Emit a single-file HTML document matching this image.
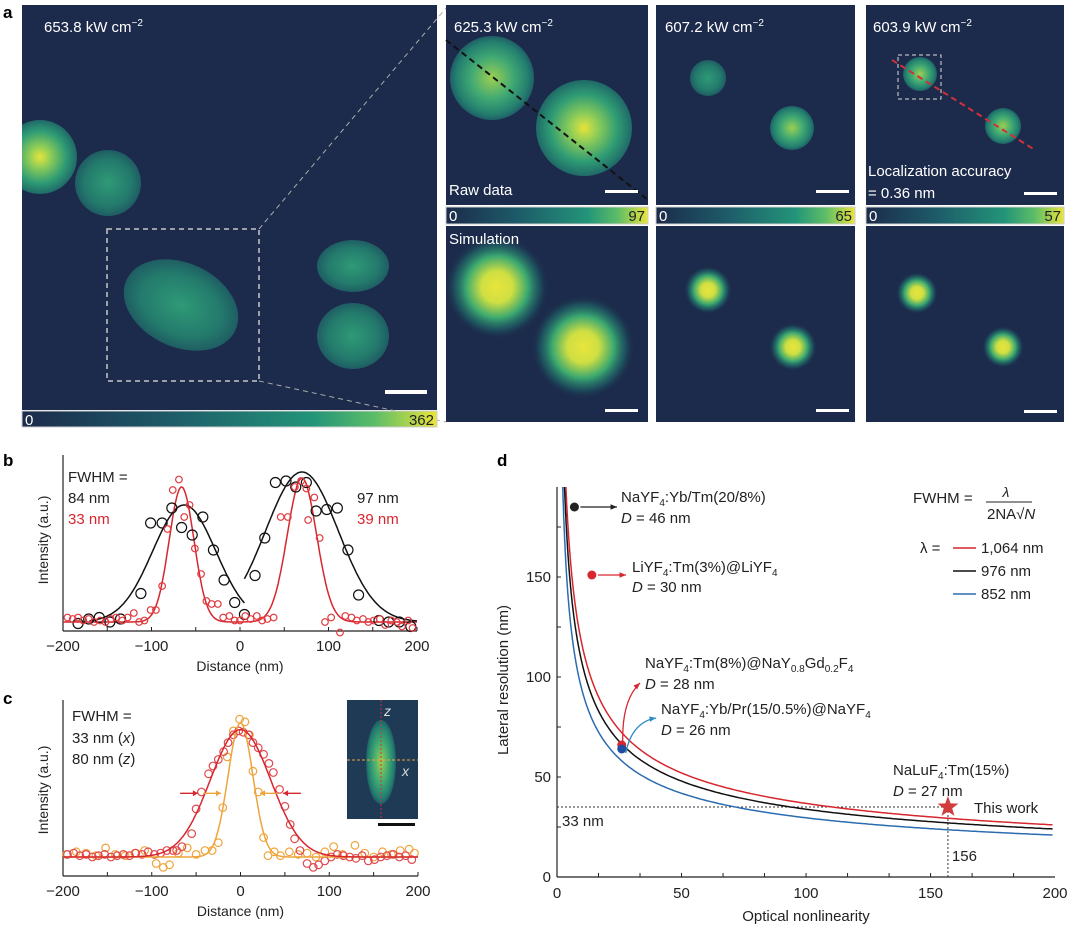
<!DOCTYPE html>
<html><head><meta charset="utf-8">
<style>
body{margin:0;background:#fff;}
svg{display:block;font-family:"Liberation Sans",Arial,sans-serif;}
</style></head>
<body>
<svg id="fig" width="1080" height="930" viewBox="0 0 1080 930">
<defs>
<linearGradient id="vir" x1="0" x2="1" y1="0" y2="0">
<stop offset="0" stop-color="#1c2b4b"/><stop offset="0.35" stop-color="#1d5a68"/><stop offset="0.7" stop-color="#239479"/><stop offset="0.85" stop-color="#5cbd68"/><stop offset="1" stop-color="#e9e53a"/>
</linearGradient>
<radialGradient id="sim"><stop offset="0" stop-color="#e8e53c"/><stop offset="0.3" stop-color="#cfdf42"/><stop offset="0.6" stop-color="#3aa870"/><stop offset="0.82" stop-color="#1f6a6a" stop-opacity="0.6"/><stop offset="1" stop-color="#1c2b4b" stop-opacity="0"/></radialGradient>
<radialGradient id="raw"><stop offset="0" stop-color="#9ccf52"/><stop offset="0.5" stop-color="#40a973"/><stop offset="0.85" stop-color="#24806f"/><stop offset="1" stop-color="#1f5f66"/></radialGradient>
<radialGradient id="rawdim"><stop offset="0" stop-color="#2f9a76"/><stop offset="0.7" stop-color="#237a6c"/><stop offset="1" stop-color="#1f5d63"/></radialGradient>
<radialGradient id="rawhot"><stop offset="0" stop-color="#e6e43c"/><stop offset="0.3" stop-color="#8ccc58"/><stop offset="0.7" stop-color="#2f9c74"/><stop offset="1" stop-color="#1f6a68"/></radialGradient>
<clipPath id="cMain"><rect x="22" y="5" width="415" height="405"/></clipPath>
<clipPath id="c1"><rect x="446" y="5" width="202" height="200"/></clipPath>
<clipPath id="c2"><rect x="656" y="5" width="199" height="200"/></clipPath>
<clipPath id="c3"><rect x="866" y="5" width="198" height="200"/></clipPath>
<clipPath id="s1"><rect x="446" y="226" width="202" height="196"/></clipPath>
<clipPath id="s2"><rect x="656" y="226" width="199" height="196"/></clipPath>
<clipPath id="s3"><rect x="866" y="226" width="198" height="196"/></clipPath>
</defs>

<g>
<text x="3" y="18" font-size="17" font-weight="bold">a</text>
<rect x="22" y="5" width="415" height="405" fill="#1c2b4b"/>
<g clip-path="url(#cMain)">
<circle cx="40" cy="157" r="37" fill="url(#rawhot)"/>
<circle cx="108" cy="183" r="33" fill="url(#rawdim)"/>
<ellipse cx="181" cy="305" rx="60" ry="42" transform="rotate(25 181 305)" fill="url(#rawdim)"/>
<ellipse cx="353" cy="266" rx="36" ry="26" fill="url(#rawdim)"/>
<ellipse cx="353" cy="336" rx="36" ry="33" fill="url(#rawdim)"/>
</g>
<rect x="107" y="229" width="152" height="152" fill="none" stroke="#c8c8c8" stroke-width="1.5" stroke-dasharray="5,4"/>
<line x1="259" y1="229" x2="446" y2="8" stroke="#aaa" stroke-dasharray="5,4"/>
<line x1="259" y1="381" x2="446" y2="422" stroke="#aaa" stroke-dasharray="5,4"/>
<rect x="385" y="390" width="42" height="4" fill="#fff"/>
<text x="44" y="32" font-size="15" fill="#fff">653.8 kW cm<tspan dy="-6" font-size="10">−2</tspan></text>
<rect x="22" y="411" width="415" height="16" fill="url(#vir)" stroke="#ccc"/>
<text x="25" y="425" font-size="15" fill="#fff">0</text>
<text x="434" y="425" font-size="15" text-anchor="end" fill="#222">362</text>

<rect x="446" y="5" width="202" height="200" fill="#1c2b4b"/>
<g clip-path="url(#c1)">
<circle cx="492" cy="78" r="42" fill="url(#raw)"/>
<circle cx="584" cy="128" r="48" fill="url(#rawhot)"/>
</g>
<line x1="446" y1="40" x2="648" y2="200" stroke="#111" stroke-width="2" stroke-dasharray="6,4"/>
<rect x="656" y="5" width="199" height="200" fill="#1c2b4b"/>
<circle cx="708" cy="78" r="18" fill="url(#rawdim)"/>
<circle cx="792" cy="128" r="22" fill="url(#raw)"/>
<rect x="866" y="5" width="198" height="200" fill="#1c2b4b"/>
<circle cx="920" cy="74" r="17" fill="url(#raw)"/>
<circle cx="1003" cy="126" r="18" fill="url(#raw)"/>
<rect x="898" y="55" width="43" height="44" fill="none" stroke="#ddd" stroke-dasharray="4,3"/>
<line x1="892" y1="60" x2="1035" y2="150" stroke="#d0303a" stroke-width="2" stroke-dasharray="6,4"/>
<text x="454" y="32" font-size="15" fill="#fff">625.3 kW cm<tspan dy="-6" font-size="10">−2</tspan></text>
<text x="665" y="32" font-size="15" fill="#fff">607.2 kW cm<tspan dy="-6" font-size="10">−2</tspan></text>
<text x="873" y="32" font-size="15" fill="#fff">603.9 kW cm<tspan dy="-6" font-size="10">−2</tspan></text>
<text x="449" y="195" font-size="15" fill="#fff">Raw data</text>
<text x="868" y="176" font-size="15" fill="#fff">Localization accuracy</text>
<text x="868" y="198" font-size="15" fill="#fff">= 0.36 nm</text>
<rect x="605" y="190" width="33" height="3" fill="#fff"/><rect x="816" y="190" width="33" height="3" fill="#fff"/><rect x="1024" y="192" width="33" height="3" fill="#fff"/>

<rect x="446" y="207" width="202" height="17" fill="url(#vir)" stroke="#ccc"/>
<rect x="656" y="207" width="199" height="17" fill="url(#vir)" stroke="#ccc"/>
<rect x="866" y="207" width="198" height="17" fill="url(#vir)" stroke="#ccc"/>
<text x="449" y="221" font-size="15" fill="#fff">0</text><text x="645" y="221" font-size="15" fill="#222" text-anchor="end">97</text>
<text x="659" y="221" font-size="15" fill="#fff">0</text><text x="852" y="221" font-size="15" fill="#222" text-anchor="end">65</text>
<text x="869" y="221" font-size="15" fill="#fff">0</text><text x="1061" y="221" font-size="15" fill="#222" text-anchor="end">57</text>

<rect x="446" y="226" width="202" height="196" fill="#1c2b4b"/>
<g clip-path="url(#s1)">
<circle cx="497" cy="287" r="52" fill="url(#sim)"/>
<circle cx="583" cy="347" r="52" fill="url(#sim)"/>
</g>
<rect x="656" y="226" width="199" height="196" fill="#1c2b4b"/>
<g clip-path="url(#s2)">
<circle cx="708" cy="290" r="24" fill="url(#sim)"/>
<circle cx="793" cy="347" r="24" fill="url(#sim)"/>
</g>
<rect x="866" y="226" width="198" height="196" fill="#1c2b4b"/>
<g clip-path="url(#s3)">
<circle cx="917" cy="293" r="21" fill="url(#sim)"/>
<circle cx="1003" cy="347" r="21" fill="url(#sim)"/>
</g>
<text x="449" y="244" font-size="15" fill="#fff">Simulation</text>
<rect x="605" y="409" width="33" height="3" fill="#fff"/><rect x="816" y="409" width="33" height="3" fill="#fff"/><rect x="1024" y="410" width="33" height="3" fill="#fff"/>
</g>

<g id="pb"></g>
<g id="pc"></g>
<g id="pd"></g>
</svg>
<script>
const NS="http://www.w3.org/2000/svg";
function mk(p,tag,at,txt){const e=document.createElementNS(NS,tag);for(const k in at)e.setAttribute(k,at[k]);if(txt!==undefined)e.textContent=txt;p.appendChild(e);return e;}

// ---------- Panel b data ----------
const bBlackX=[-183,-171,-159,-147,-135,-112,-101,-88,-77,-66,-54,-42,-30,-18,-6,5,17,28,40,52,63,75,86,98,110,122,134,157,168,180,193];
const bBlackY=[-0.01,0.02,0.03,0,0.02,0.19,0.66,0.66,0.76,0.63,0.58,0.7,0.48,0.28,0.13,0.05,0.31,0.56,0.93,0.94,0.9,0.93,0.74,0.75,0.76,0.48,0.18,0.01,0,0,-0.03];
const bRedX=[-195,-189,-183,-177,-171,-165,-158,-152,-146,-140,-133,-127,-120,-114,-108,-101,-95,-88,-82,-76,-69,-63,-57,-51,-44,-38,-32,-25,-19,-12,-6,0,6,12,19,25,31,38,46,54,62,69,75,77,84,90,96,103,113,119,126,132,139,145,151,158,164,171,177,183,190,195];
const bRedY=[0.03,0.02,0.03,0.01,0.02,0,0.01,0,0.02,0.03,0.01,0.03,0.06,0,0.01,0.08,0.08,0.24,0.62,0.88,0.95,0.7,0.78,0.49,0.32,0.14,0.12,0.12,0.03,0.04,0.01,0.01,0.04,0.02,0.04,0.01,0.02,0.03,0.7,0.7,0.9,0.94,0.89,0.68,0.83,0.56,0,0.03,-0.07,0.04,0.03,0.01,0.02,0,0.01,0.02,-0.02,0.01,0,-0.03,0.01,-0.04];
const bFitBlack=[{c:-63,w:84,a:0.78,from:-170,to:5},{c:70,w:97,a:1.0,from:5,to:200}];
const bFitRed=[{c:-66,w:33,a:0.9,from:-200,to:5},{c:70,w:39,a:0.96,from:5,to:200}];
const xTicks=[-200,-100,0,100,200];

// ---------- Panel c data ----------
const cRedX=[-195,-188,-181,-174,-167,-160,-153,-146,-139,-132,-125,-118,-111,-104,-97,-90,-83,-76,-72,-66,-55,-50,-44,-36,-31,-25,-19,-14,-8,-2,3,9,14,20,26,32,37,44,50,56,61,67,75,82,88,95,102,109,116,123,130,137,144,151,158,165,172,179,186,193];
const cRedY=[0.02,0.03,0.01,0.02,0,0.01,0.02,0,0.01,0.02,0.01,0.03,0.02,0.04,0.02,0.03,0.05,0.05,0.05,0.08,0.18,0.37,0.5,0.64,0.7,0.75,0.81,0.88,0.94,0.97,0.96,0.94,0.88,0.84,0.79,0.72,0.65,0.52,0.39,0.25,0.14,0.05,-0.05,-0.08,-0.06,-0.03,0,0.02,0.01,0,-0.01,0.01,-0.03,-0.02,0,0.01,0.02,0,0.01,-0.02];
const cOrX=[-196,-185,-174,-163,-152,-141,-130,-119,-108,-95,-87,-80,-70,-60,-50,-40,-32,-25,-20,-15,-8,-1,5,10,14,20,26,31,38,45,55,65,75,85,95,105,115,129,140,150,160,170,180,190,196];
const cOrY=[0.02,0.04,0.03,0.01,0.07,0.02,0.01,0.03,0.05,-0.05,-0.08,-0.06,0.03,0.07,0.02,0.05,0.05,0.11,0.38,0.77,0.97,1.06,1.04,0.94,0.66,0.5,0.15,0.01,0.04,0.01,0.04,0.02,0.03,0,0.04,0.08,0.02,0.09,0.03,0,0.04,0.02,0.05,0.06,0.03];
const cFitRed={c:0,w:80,a:0.98};
const cFitOr={c:0,w:33,a:1.03};

// ---------- Panel d data ----------
const dLambda=[1064,976,852];
const dColors=["#d7262e","#111111","#2b6cb0"];
const dCoef=[368,339,296];
const dXTicks=[0,50,100,150,200];
const dYTicks=[0,50,100,150];
const dPointsN=[7,14,26,26];
const dPointsR=[185,151,66,64];
const dThisN=157, dThisR=35;

function gauss(x,p){const s=p.w/2.3548;return p.a*Math.exp(-((x-p.c)**2)/(2*s*s));}

function axesXY(g,x0,x1,y0,yTop,sx,labelY){
  mk(g,"line",{x1:x0,y1:y0,x2:x1,y2:y0,stroke:"#222","stroke-width":1.2});
  mk(g,"line",{x1:x0,y1:y0,x2:x0,y2:yTop,stroke:"#222","stroke-width":1.2});
  for(let v=-200;v<=200;v+=50){mk(g,"line",{x1:sx(v),y1:y0,x2:sx(v),y2:y0-4,stroke:"#222"});}
  xTicks.forEach(v=>{const t=mk(g,"text",{x:sx(v),y:y0+20,"font-size":15,"text-anchor":"middle",fill:"#222"},v<0?"−"+(-v):String(v));
    
    });
  const xt=mk(g,"text",{x:(x0+x1)/2,y:y0+40,"font-size":14,"text-anchor":"middle",fill:"#222"},"Distance (nm)");
  
  
  const yt=mk(g,"text",{x:0,y:0,"font-size":14,"text-anchor":"middle",fill:"#222",transform:`translate(48,${labelY}) rotate(-90)`},"Intensity (a.u.)");
  
  
}
function curve(g,p,sx,sy,from,to,color,name){let d="";for(let x=from;x<=to;x+=1){d+=(d?"L":"M")+sx(x).toFixed(1)+","+sy(gauss(x,p)).toFixed(1);}
  const e=mk(g,"path",{d:d,fill:"none",stroke:color,"stroke-width":1.5});
  
  }
function pts(g,X,Y,sx,sy,r,color,name){X.forEach((x,i)=>{const c=mk(g,"circle",{cx:sx(x),cy:sy(Y[i]),r:r,fill:"none",stroke:color,"stroke-width":1.2});
  
  });}

(function(){
  const g=document.getElementById("pb");
  const sx=v=>63+(v+200)/400*354, sy=v=>622-v*150;
  mk(g,"text",{x:3,y:466,"font-size":17,"font-weight":"bold"},"b");
  axesXY(g,63,417,631,455,sx,540);
  bFitBlack.forEach(p=>curve(g,p,sx,sy,p.from,p.to,"#111","fit-black"));
  bFitRed.forEach(p=>curve(g,p,sx,sy,p.from,p.to,"#d7262e","fit-red"));
  pts(g,bBlackX,bBlackY,sx,sy,5,"#111","point-black");
  pts(g,bRedX,bRedY,sx,sy,3.3,"#e03a40","point-red");
  mk(g,"text",{x:68,y:482,"font-size":15,fill:"#222"},"FWHM =");
  mk(g,"text",{x:68,y:503,"font-size":15,fill:"#222"},"84 nm");
  mk(g,"text",{x:68,y:524,"font-size":15,fill:"#d7262e"},"33 nm");
  mk(g,"text",{x:357,y:503,"font-size":15,fill:"#222"},"97 nm");
  mk(g,"text",{x:357,y:524,"font-size":15,fill:"#d7262e"},"39 nm");
})();

(function(){
  const g=document.getElementById("pc");
  const sx=v=>63+(v+200)/400*355, sy=v=>857-v*130;
  mk(g,"text",{x:3,y:704,"font-size":17,"font-weight":"bold"},"c");
  axesXY(g,63,418,876,700,sx,790);
  pts(g,cOrX,cOrY,sx,sy,3.8,"#eea43a","point-orange");
  pts(g,cRedX,cRedY,sx,sy,3.8,"#e0474c","point-red");
  curve(g,cFitOr,sx,sy,-200,200,"#eea43a","fit-orange");
  curve(g,cFitRed,sx,sy,-200,200,"#d7262e","fit-red");
  mk(g,"text",{x:72,y:721,"font-size":15,fill:"#222"},"FWHM =");
  const t1=mk(g,"text",{x:72,y:743,"font-size":15,fill:"#222"},"33 nm (");mk(t1,"tspan",{"font-style":"italic"},"x");mk(t1,"tspan",{},")");
  const t2=mk(g,"text",{x:72,y:764,"font-size":15,fill:"#222"},"80 nm (");mk(t2,"tspan",{"font-style":"italic"},"z");mk(t2,"tspan",{},")");
  const ay=sy(cFitRed.a/2);
  [[-68,-48,"#d7262e"],[68,48,"#d7262e"],[-42,-22,"#eea43a"],[42,22,"#eea43a"]].forEach(a=>{
    mk(g,"line",{x1:sx(a[0]),y1:ay,x2:sx(a[1]),y2:ay,stroke:a[2],"stroke-width":1.3});
    const dir=a[1]>a[0]?1:-1,xe=sx(a[1]);
    mk(g,"path",{d:`M${xe},${ay}L${xe-5*dir},${ay-3}L${xe-5*dir},${ay+3}Z`,fill:a[2]});
  });
  const ins=mk(g,"g",{});
  
  
  mk(ins,"rect",{x:347,y:700,width:71,height:119,fill:"#1e3a55"});
  mk(ins,"ellipse",{cx:381,cy:762,rx:15,ry:42,fill:"url(#raw)"});
  mk(ins,"line",{x1:381,y1:700,x2:381,y2:819,stroke:"#d0303a","stroke-dasharray":"2,2"});
  mk(ins,"line",{x1:347,y1:760,x2:418,y2:760,stroke:"#eea43a","stroke-dasharray":"3,2"});
  mk(ins,"text",{x:384,y:716,"font-size":14,"font-style":"italic",fill:"#ddd"},"z");
  mk(ins,"text",{x:402,y:776,"font-size":14,"font-style":"italic",fill:"#ddd"},"x");
  mk(g,"rect",{x:378,y:823,width:37,height:3,fill:"#111"});
})();

(function(){
  const g=document.getElementById("pd");
  const x0=557,x1=1055,y0=877;
  const sx=v=>x0+v/200*(x1-x0), sy=v=>y0-v*2;
  mk(g,"text",{x:497,y:466,"font-size":17,"font-weight":"bold"},"d");
  mk(g,"line",{x1:x0,y1:y0,x2:x1,y2:y0,stroke:"#222","stroke-width":1.2});
  mk(g,"line",{x1:x0,y1:y0,x2:x0,y2:487,stroke:"#222","stroke-width":1.2});
  for(let v=0;v<=200;v+=16.67){mk(g,"line",{x1:sx(v),y1:y0,x2:sx(v),y2:y0-4,stroke:"#222"});}
  for(let v=0;v<=175;v+=25){mk(g,"line",{x1:x0,y1:sy(v),x2:x0+4,y2:sy(v),stroke:"#222"});}
  dXTicks.forEach(v=>{const t=mk(g,"text",{x:sx(v),y:y0+21,"font-size":15,"text-anchor":"middle",fill:"#222"},String(v));
    
    });
  dYTicks.forEach(v=>{const t=mk(g,"text",{x:x0-6,y:sy(v)+5,"font-size":15,"text-anchor":"end",fill:"#222"},String(v));
    
    });
  const xt=mk(g,"text",{x:806,y:921,"font-size":15,"text-anchor":"middle",fill:"#222"},"Optical nonlinearity");
  
  
  const yt=mk(g,"text",{x:0,y:0,"font-size":15,"text-anchor":"middle",fill:"#222",transform:"translate(508,680) rotate(-90)"},"Lateral resolution (nm)");
  
  
  mk(g,"line",{x1:x0,y1:sy(dThisR),x2:sx(dThisN),y2:sy(dThisR),stroke:"#333","stroke-dasharray":"2,2"});
  mk(g,"line",{x1:sx(dThisN),y1:sy(dThisR),x2:sx(dThisN),y2:y0,stroke:"#333","stroke-dasharray":"2,2"});
  mk(g,"text",{x:562,y:826,"font-size":15,fill:"#222"},"33 nm");
  mk(g,"text",{x:sx(dThisN)+4,y:861,"font-size":15,fill:"#222"},"156");
  dCoef.forEach((c,i)=>{let d="";const nStart=(c/195)**2;
    for(let n=nStart;n<=200;n+=(n<20?0.05:1)){d+=(d?"L":"M")+sx(n).toFixed(1)+","+sy(c/Math.sqrt(n)).toFixed(1);}
    const e=mk(g,"path",{d:d,fill:"none",stroke:dColors[i],"stroke-width":1.5});
    
    });
  const pc=["#222","#d7262e","#d7262e","#1f4ea0"];
  dPointsN.forEach((n,i)=>{const c=mk(g,"circle",{cx:sx(n),cy:sy(dPointsR[i]),r:4.5,fill:pc[i]});
    
    });
  function arrow(x1,y1,x2,y2,col,q){const d=q?`M${x1},${y1}Q${q[0]},${q[1]} ${x2},${y2}`:`M${x1},${y1}L${x2},${y2}`;
    mk(g,"path",{d:d,fill:"none",stroke:col,"stroke-width":1.3});
    const px=q?q[0]:x1,py=q?q[1]:y1;const a=Math.atan2(y2-py,x2-px);
    mk(g,"path",{d:`M${x2},${y2}L${x2-7*Math.cos(a-0.4)},${y2-7*Math.sin(a-0.4)}L${x2-7*Math.cos(a+0.4)},${y2-7*Math.sin(a+0.4)}Z`,fill:col});}
  arrow(sx(dPointsN[0])+6,sy(dPointsR[0]),617,sy(dPointsR[0]),"#222");
  arrow(sx(dPointsN[1])+6,sy(dPointsR[1]),626,sy(dPointsR[1]),"#d7262e");
  arrow(sx(26)+1,sy(68),640,683,"#d7262e",[622,700]);
  arrow(sx(26)+4,sy(62),656,718,"#2b8ac6",[632,722]);
  const tx=(x,y,parts,col)=>{const t=mk(g,"text",{x:x,y:y,"font-size":15,fill:col||"#222"});parts.forEach(p=>{
    if(typeof p==="string")mk(t,"tspan",{},p);else mk(t,"tspan",p[1],p[0]);});return t;};
  const sub={dy:4,"font-size":10}, up={dy:-4};
  tx(621,502,["NaYF",["4",sub],[":Yb/Tm(20/8%)",up]]);
  tx(621,523,[["D",{"font-style":"italic"}]," = 46 nm"]);
  tx(632,572,["LiYF",["4",sub],[":Tm(3%)@LiYF",up],["4",sub]]);
  tx(632,592,[["D",{"font-style":"italic"}]," = 30 nm"]);
  tx(645,668,["NaYF",["4",sub],[":Tm(8%)@NaY",up],["0.8",sub],["Gd",up],["0.2",sub],["F",up],["4",sub]]);
  tx(645,689,[["D",{"font-style":"italic"}]," = 28 nm"]);
  tx(661,714,["NaYF",["4",sub],[":Yb/Pr(15/0.5%)@NaYF",up],["4",sub]]);
  tx(661,735,[["D",{"font-style":"italic"}]," = 26 nm"]);
  tx(893,775,["NaLuF",["4",sub],[":Tm(15%)",up]]);
  tx(893,796,[["D",{"font-style":"italic"}]," = 27 nm"]);
  const cx=sx(dThisN),cy=sy(dThisR);let sd="";
  for(let k=0;k<10;k++){const r=k%2?4.5:11,a=-Math.PI/2+k*Math.PI/5;sd+=(k?"L":"M")+(cx+r*Math.cos(a)).toFixed(1)+","+(cy+r*Math.sin(a)).toFixed(1);}
  const st=mk(g,"path",{d:sd+"Z",fill:"#d23c3c"});
  
  
  mk(g,"text",{x:974,y:813,"font-size":15,fill:"#222"},"This work");
  mk(g,"text",{x:913,y:503,"font-size":15,fill:"#222"},"FWHM =");
  mk(g,"text",{x:1006,y:497,"font-size":14,"font-style":"italic","text-anchor":"middle",fill:"#222"},"λ");
  mk(g,"line",{x1:986,y1:502,x2:1032,y2:502,stroke:"#222"});
  const fr=mk(g,"text",{x:987,y:519,"font-size":15,fill:"#222"},"2NA√");mk(fr,"tspan",{"font-style":"italic"},"N");
  mk(g,"text",{x:920,y:553,"font-size":15,fill:"#222"},"λ =");
  ["1,064 nm","976 nm","852 nm"].forEach((s,i)=>{const y=548+i*23;
    const l=mk(g,"line",{x1:953,y1:y,x2:976,y2:y,stroke:dColors[i],"stroke-width":1.5});
    
    
    const t=mk(g,"text",{x:981,y:y+5,"font-size":15,fill:"#222"},s);
    
    });
})();
</script>
</body></html>
